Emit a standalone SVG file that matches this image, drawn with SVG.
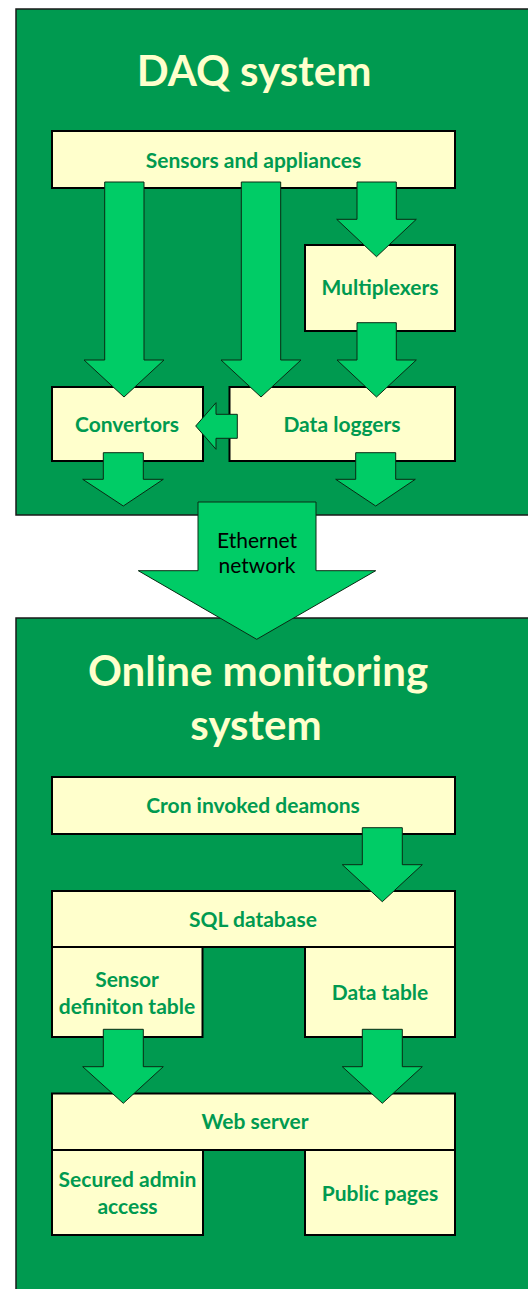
<svg xmlns="http://www.w3.org/2000/svg" width="528" height="1289" viewBox="0 0 528 1289">
<style>
.cont{fill:#009a50;stroke:#1a1a1a;stroke-width:1.5}
.box{fill:#ffffcc;stroke:#000;stroke-width:2}
.title{font-family:Lato,"Liberation Sans",sans-serif;font-weight:bold;font-size:42px;fill:#ffffcc;text-anchor:middle}
.lbl{font-family:Lato,"Liberation Sans",sans-serif;font-weight:bold;font-size:21px;fill:#009a50;text-anchor:middle}
.arr{fill:#00cc66;stroke:#0a2a14;stroke-width:1}
.elbl{font-family:Lato,"Liberation Sans",sans-serif;font-size:21px;fill:#000;text-anchor:middle}
</style>
<rect width="528" height="1289" fill="#ffffff"/>
<g id="daq-system">
<rect class="cont" x="16" y="9" width="530" height="506"/>
<text class="title" x="254" y="86" font-size="41">DAQ system</text>
</g>
<g id="online-system">
<rect class="cont" x="16" y="618" width="530" height="690"/>
<text class="title" x="258" y="686">Online monitoring</text>
<text class="title" x="256" y="740">system</text>
</g>
<g id="sensors">
<rect class="box" x="52" y="131" width="403" height="57"/>
<text class="lbl" x="253.5" y="167.5">Sensors and appliances</text>
</g>
<g id="multiplexers">
<rect class="box" x="305" y="245" width="150" height="86"/>
<text class="lbl" x="380" y="295">Multiplexers</text>
</g>
<g id="convertors">
<rect class="box" x="52" y="387" width="151" height="74"/>
<text class="lbl" x="127" y="431.5">Convertors</text>
</g>
<g id="data-loggers">
<rect class="box" x="229.5" y="387" width="225.5" height="74"/>
<text class="lbl" x="342" y="431.5">Data loggers</text>
</g>
<g id="cron">
<rect class="box" x="52" y="777" width="403" height="57"/>
<text class="lbl" x="253" y="813">Cron invoked deamons</text>
</g>
<g id="sql-database">
<rect class="box" x="52" y="891" width="403" height="56"/>
<text class="lbl" x="253" y="926.5">SQL database</text>
</g>
<g id="sensor-definition-table">
<rect class="box" x="52" y="947" width="150.5" height="90"/>
<text class="lbl" x="127" y="987">Sensor</text>
<text class="lbl" x="127" y="1014">definiton table</text>
</g>
<g id="data-table">
<rect class="box" x="305" y="947" width="150" height="90"/>
<text class="lbl" x="380" y="1000">Data table</text>
</g>
<g id="web-server">
<rect class="box" x="52" y="1093.5" width="403" height="56.5"/>
<text class="lbl" x="255" y="1129">Web server</text>
</g>
<g id="secured-admin-access">
<rect class="box" x="52" y="1150" width="151" height="85"/>
<text class="lbl" x="127.5" y="1187">Secured admin</text>
<text class="lbl" x="127.5" y="1214">access</text>
</g>
<g id="public-pages">
<rect class="box" x="305" y="1150" width="150" height="85"/>
<text class="lbl" x="380" y="1200.5">Public pages</text>
</g>
<g id="connectors">
<polygon class="arr" points="104.7,182 144,182 144,360 164,360 124,397 84,360 104.7,360"/>
<polygon class="arr" points="241.3,182 280.7,182 280.7,360 301,360 261,397 221,360 241.3,360"/>
<polygon class="arr" points="357,182 396.3,182 396.3,219.3 416.3,219.3 376.5,256.7 336.7,219.3 357,219.3"/>
<polygon class="arr" points="357,322.7 396.3,322.7 396.3,360 416.3,360 376.5,397 337,360 357,360"/>
<polygon class="arr" points="237.3,414.3 216,414.3 216,402.7 195.7,426 216,449.3 216,438.3 237.3,438.3"/>
<polygon class="arr" points="103.3,452.7 143.3,452.7 143.3,479.3 163.3,479.3 123.3,506 82.7,479.3 103.3,479.3"/>
<polygon class="arr" points="355.7,452.7 395.7,452.7 395.7,479.3 415.3,479.3 375.7,506 335.7,479.3 355.7,479.3"/>
<polygon class="arr" points="198,502 316,502 316,570.7 375.7,570.7 256.7,639.3 138.3,570.7 198,570.7"/>
<text class="elbl" x="257" y="548">Ethernet</text>
<text class="elbl" x="257" y="573">network</text>
<polygon class="arr" points="362.3,827.7 402.3,827.7 402.3,864.7 422.3,864.7 382.3,901.7 342.3,864.7 362.3,864.7"/>
<polygon class="arr" points="103.3,1029.3 143.3,1029.3 143.3,1066.7 163.3,1066.7 123.3,1103.3 82.7,1066.7 103.3,1066.7"/>
<polygon class="arr" points="362.3,1029.3 402.3,1029.3 402.3,1066.7 422.3,1066.7 382.3,1103.3 342.3,1066.7 362.3,1066.7"/>
</g>
</svg>
